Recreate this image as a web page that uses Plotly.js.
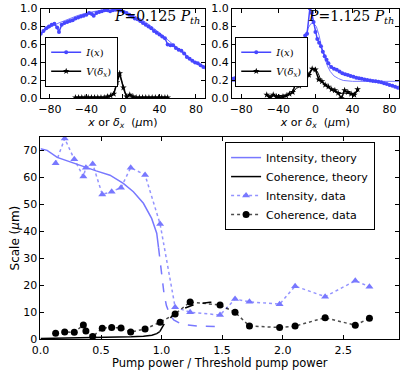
<!DOCTYPE html>
<html>
<head>
<meta charset="utf-8">
<script src="https://cdn.plot.ly/plotly-3.0.1.min.js"></script>
<style>
  html, body { margin: 0; padding: 0; background: #fff; }
  #chart { width: 407px; height: 370px; }
</style>
</head>
<body>
<div id="chart"></div>
<script>
// --- Inset 1 (P = 0.125 Pth) ---
const lowIx = [-90,-87,-84,-81,-78,-75,-72,-70,-67,-64,-61,-58,-55,-52,-49,-46,-43,-40,-37,-34,-32,-29,-26,-23,-20,-17,-14,-11,-8,-5,-2,1,4,7,10,13,16,19,22,25,28,31,34,37,40,43,46,49,52,55,58,61,64,67,70,73,76,79,82,85,88,91];
const lowIy = [0.72,0.75,0.78,0.80,0.82,0.83,0.79,0.74,0.82,0.84,0.85,0.86,0.87,0.89,0.90,0.91,0.92,0.93,0.95,0.94,0.92,0.95,0.96,0.97,0.98,0.98,0.97,0.98,0.99,1.00,0.98,0.96,0.95,0.93,0.91,0.89,0.88,0.86,0.84,0.82,0.80,0.78,0.75,0.73,0.71,0.69,0.67,0.60,0.59,0.59,0.56,0.54,0.53,0.50,0.46,0.44,0.42,0.40,0.39,0.37,0.35,0.34];
const lowFitX = [-90,-80,-70,-60,-50,-40,-30,-20,-10,0,10,20,30,40,50,60,70,80,90];
const lowFitY = [0.73,0.79,0.84,0.88,0.92,0.95,0.97,0.98,0.975,0.96,0.93,0.88,0.81,0.73,0.64,0.55,0.47,0.40,0.34];
const lowVx = [-52,-48.5,-45,-41.5,-38,-34.5,-31,-27.5,-24,-20.5,-17,-13.5,-10,-6.5,-3.5,0.5,4,7.5,11,14.5,18,21.5,25,28.5,32,35.5,39,42.5,46,49];
const lowVy = [0.01,0.01,0.01,0.01,0.01,0.01,0.01,0.01,0.01,0.01,0.02,0.03,0.05,0.18,0.28,0.12,0.02,0.04,0.02,0.01,0.01,0.01,0.01,0.01,0.01,0.01,0.01,0.01,0.01,0.01];
const lowVfitX = [-52,-20,-14,-10,-7,-4,-1,2,5,10,20,49];
const lowVfitY = [0.0,0.0,0.02,0.06,0.16,0.26,0.18,0.06,0.02,0.01,0.0,0.0];

// --- Inset 2 (P = 1.125 Pth) ---
const highIx = [-90,-87,-84,-81,-78,-75,-72,-69,-66,-63,-60,-57,-54,-51,-48,-45,-42,-39,-36,-33,-30,-27,-24,-21,-19,-17,-15,-13,-11,-9,-6,-4,-2,0,2,4,6,8,10,12,14,17,20,23,26,29,32,35,38,41,44,47,50,53,56,59,62,65,68,71,74,77,80,83,86,89];
const highIy = [0.22,0.225,0.23,0.23,0.24,0.24,0.245,0.25,0.25,0.26,0.26,0.27,0.27,0.28,0.29,0.30,0.30,0.31,0.32,0.32,0.33,0.34,0.36,0.41,0.46,0.50,0.58,0.66,0.70,0.72,1.00,0.95,0.85,0.74,0.66,0.62,0.58,0.52,0.47,0.43,0.39,0.35,0.33,0.32,0.30,0.28,0.27,0.26,0.25,0.24,0.23,0.225,0.22,0.21,0.205,0.20,0.195,0.19,0.185,0.18,0.17,0.16,0.15,0.14,0.13,0.12];
const highFitX = [-90,-60,-40,-32,-28,-24,-20,-17,-14,-11,-8,-5,-2,1,4,7,10,13,16,20,25,30,40,90];
const highFitY = [0.19,0.19,0.19,0.20,0.22,0.26,0.33,0.42,0.55,0.68,0.78,0.83,0.835,0.80,0.70,0.55,0.44,0.36,0.30,0.25,0.22,0.20,0.19,0.19];
const highVx = [-52.5,-49,-45.5,-42,-38.5,-35,-31.5,-28,-24.5,-21,-17.5,-14,-10.5,-7,-3.5,0,3.5,7,10.5,14,17.5,21,24.5,28,31.5,35,38.5,42,45.5];
const highVy = [0.04,0.01,0.04,0.02,0.01,0.02,0.03,0.05,0.07,0.18,0.14,0.20,0.22,0.26,0.33,0.32,0.21,0.19,0.15,0.13,0.10,0.09,0.06,0.00,0.09,0.07,0.05,0.04,0.10];
const highVfitX = [-52,-40,-30,-25,-20,-15,-10,-5,-2,0,3,6,10,15,20,25,30,40,46];
const highVfitY = [0.03,0.03,0.04,0.06,0.12,0.19,0.25,0.31,0.33,0.33,0.28,0.20,0.15,0.11,0.08,0.05,0.06,0.05,0.08];

// --- Main panel ---
const intThX = [0,0.055,0.138,0.25,0.354,0.46,0.574,0.684,0.767,0.85,0.918,0.96,0.975];
const intThY = [70.6,70.0,67.4,65.6,63.9,62.4,60.8,57.8,54.7,50.4,44.8,39.3,34];
const intThDashX = [0.975,0.99,1.005,1.02,1.04,1.07,1.1,1.15,1.2,1.3,1.45];
const intThDashY = [34,28,22,17,12.5,9,7.2,6,5.4,4.9,4.7];
const cohThX = [0,0.2,0.4,0.6,0.75,0.85,0.92,0.96,0.985];
const cohThY = [0.3,0.4,0.5,0.7,0.9,1.1,1.5,2.1,2.8];
const cohThDashX = [0.985,1.0,1.04,1.07,1.1,1.15,1.2,1.26,1.33,1.4,1.47];
const cohThDashY = [2.8,4.1,7.1,7.8,9.2,10.8,11.8,12.7,13.3,13.7,13.7];
const pump = [0.125,0.2,0.279,0.354,0.375,0.431,0.51,0.588,0.665,0.745,0.864,0.988,1.112,1.236,1.483,1.607,1.726,1.975,2.103,2.351,2.6,2.717];
const intData = [65.2,74.4,66.7,60.3,63.6,65.0,53.7,54.7,56.2,63.6,60.9,42.7,11.9,10.0,9.0,14.9,13.9,13.0,19.7,15.8,21.7,19.5];
const cohData = [2.2,2.7,2.6,5.3,3.1,1.0,4.1,4.4,4.2,2.7,3.8,6.3,9.4,13.8,12.7,10.0,4.9,4.4,4.9,8.0,5.2,7.8];

const blue = 'rgb(70,70,255)';
const lightBlue = 'rgb(120,120,255)';
const font = 'DejaVu Sans, sans-serif';
const serif = 'DejaVu Serif, serif';

const data = [
    // inset 1
    { x: lowFitX, y: lowFitY, xaxis: 'x', yaxis: 'y', mode: 'lines', line: { color: lightBlue, width: 1 }, showlegend: false, hoverinfo: 'skip' },
    { x: lowIx, y: lowIy, xaxis: 'x', yaxis: 'y', mode: 'lines+markers', name: '<i>I</i>(<i>x</i>)',
      line: { color: blue, width: 1.5 }, marker: { color: blue, size: 4 }, legend: 'legend2' },
    { x: lowVfitX, y: lowVfitY, xaxis: 'x', yaxis: 'y', mode: 'lines', line: { color: '#555', width: 1 }, showlegend: false, hoverinfo: 'skip' },
    { x: lowVx, y: lowVy, xaxis: 'x', yaxis: 'y', mode: 'lines+markers', name: '<i>V</i>(<i>δ<sub>x</sub></i>)',
      line: { color: 'black', width: 1.5 }, marker: { color: 'black', size: 5, symbol: 'star' }, legend: 'legend2' },
    // inset 2
    { x: highFitX, y: highFitY, xaxis: 'x2', yaxis: 'y2', mode: 'lines', line: { color: lightBlue, width: 1 }, showlegend: false, hoverinfo: 'skip' },
    { x: highIx, y: highIy, xaxis: 'x2', yaxis: 'y2', mode: 'lines+markers', name: '<i>I</i>(<i>x</i>)',
      line: { color: blue, width: 1.5 }, marker: { color: blue, size: 4 }, legend: 'legend3' },
    { x: highVfitX, y: highVfitY, xaxis: 'x2', yaxis: 'y2', mode: 'lines', line: { color: 'black', width: 1 }, showlegend: false, hoverinfo: 'skip' },
    { x: highVx, y: highVy, xaxis: 'x2', yaxis: 'y2', mode: 'lines+markers', name: '<i>V</i>(<i>δ<sub>x</sub></i>)',
      line: { color: 'black', width: 1.5 }, marker: { color: 'black', size: 5, symbol: 'star' }, legend: 'legend3' },
    // main
    { x: intThX, y: intThY, xaxis: 'x3', yaxis: 'y3', mode: 'lines', name: 'Intensity, theory', line: { color: lightBlue, width: 1.5 } },
    { x: intThDashX, y: intThDashY, xaxis: 'x3', yaxis: 'y3', mode: 'lines', line: { color: lightBlue, width: 1.5, dash: 'dash' }, showlegend: false },
    { x: cohThX, y: cohThY, xaxis: 'x3', yaxis: 'y3', mode: 'lines', name: 'Coherence, theory', line: { color: 'black', width: 1.5 } },
    { x: cohThDashX, y: cohThDashY, xaxis: 'x3', yaxis: 'y3', mode: 'lines', line: { color: 'black', width: 1.5, dash: 'dash' }, showlegend: false },
    { x: pump, y: intData, xaxis: 'x3', yaxis: 'y3', mode: 'lines+markers', name: 'Intensity, data',
      line: { color: 'rgba(120,120,255,0.8)', width: 1.5, dash: 'dot' }, marker: { color: 'rgb(120,120,255)', size: 7, symbol: 'triangle-up' } },
    { x: pump, y: cohData, xaxis: 'x3', yaxis: 'y3', mode: 'lines+markers', name: 'Coherence, data',
      line: { color: 'rgba(0,0,0,0.7)', width: 1.5, dash: 'dot' }, marker: { color: 'black', size: 7 } }
];

// common axis style (matplotlib classic look)
const ax = {
    showline: true, mirror: 'ticks', linecolor: 'black', linewidth: 1,
    ticks: 'inside', ticklen: 4, tickcolor: 'black', showgrid: false, zeroline: false,
    tickfont: { family: font, size: 11, color: 'black' }, fixedrange: true
};
const insetX = (anchor, dom) => ({
    ...ax, domain: dom, anchor: anchor, range: [-90, 90], tickvals: [-80, -40, 0, 40, 80],
    title: { text: '<i>x</i> or <i>δ<sub>x</sub></i>  (<i>μ</i>m)', font: { family: font, size: 11 }, standoff: 2 }
});
const insetY = (anchor, dom) => ({
    ...ax, domain: dom, anchor: anchor, range: [0, 1], tickvals: [0, 0.2, 0.4, 0.6, 0.8, 1.0], tickformat: '.1f'
});

const legendInset = (x) => ({
    x: x, y: 0.901, xanchor: 'left', yanchor: 'top', bordercolor: 'black', borderwidth: 1,
    bgcolor: 'white', font: { family: serif, size: 10 }, tracegroupgap: 0, itemwidth: 30
});

const layout = {
    width: 407, height: 370,
    margin: { l: 0, r: 0, t: 0, b: 0 },
    paper_bgcolor: 'white', plot_bgcolor: 'white',
    font: { family: font, color: 'black' },
    xaxis: insetX('y', [0.1, 0.504]),
    yaxis: insetY('x', [0.734, 0.977]),
    xaxis2: insetX('y2', [0.570, 0.980]),
    yaxis2: insetY('x2', [0.734, 0.977]),
    xaxis3: {
        ...ax, domain: [0.0995, 0.980], anchor: 'y3', range: [0, 2.96],
        tickvals: [0, 0.5, 1, 1.5, 2, 2.5], tickformat: '.1f', ticklabelstandoff: 1,
        title: { text: 'Pump power / Threshold pump power', font: { family: font, size: 11.5 }, standoff: 2 }
    },
    yaxis3: {
        ...ax, domain: [0.083, 0.630], anchor: 'x3', range: [0, 75],
        tickvals: [0, 10, 20, 30, 40, 50, 60, 70],
        title: { text: 'Scale (<i>μ</i>m)', font: { family: font, size: 12 }, standoff: 1 }
    },
    legend: {
        x: 0.553, y: 0.616, xanchor: 'left', yanchor: 'top', bordercolor: 'black', borderwidth: 1,
        bgcolor: 'white', font: { family: font, size: 11 }, tracegroupgap: 0
    },
    legend2: legendInset(0.111),
    legend3: legendInset(0.578),
    annotations: [
        { xref: 'paper', yref: 'paper', x: 0.497, y: 0.955, xanchor: 'right', yanchor: 'middle', showarrow: false,
          text: '<i>P</i>=0.125 <i>P<sub>th</sub></i>', font: { family: serif, size: 14 } },
        { xref: 'paper', yref: 'paper', x: 0.972, y: 0.955, xanchor: 'right', yanchor: 'middle', showarrow: false,
          text: '<i>P</i>=1.125 <i>P<sub>th</sub></i>', font: { family: serif, size: 14 } }
    ]
};

Plotly.newPlot('chart', data, layout, { staticPlot: true, displayModeBar: false });
</script>
</body>
</html>
